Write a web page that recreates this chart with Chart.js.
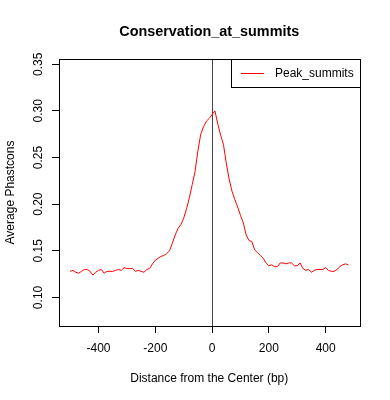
<!DOCTYPE html>
<html>
<head>
<meta charset="utf-8">
<script src="https://cdn.jsdelivr.net/npm/chart.js@4/dist/chart.umd.min.js"></script>
<style>
	html, body { margin: 0; padding: 0; background: #fff; }
	#wrap { width: 390px; height: 400px; }
</style>
</head>
<body>
<div id="wrap"><canvas id="chart" width="390" height="400"></canvas></div>
<script>
// distance from summit (bp)
const distances = [
	-500, -490, -480, -470, -460, -450, -440, -430, -420, -410,
	-400, -390, -380, -370, -360, -350, -340, -330, -320, -310,
	-300, -290, -280, -270, -260, -250, -240, -230, -220, -210,
	-200, -190, -180, -170, -160, -150, -140, -130, -120, -110,
	-100, -90, -80, -70, -60, -50, -40, -30, -20, -10,
	0, 10, 20, 30, 40, 50, 60, 70, 80, 90,
	100, 110, 120, 130, 140, 150, 160, 170, 180, 190,
	200, 210, 220, 230, 240, 250, 260, 270, 280, 290,
	300, 310, 320, 330, 340, 350, 360, 370, 380, 390,
	400, 410, 420, 430, 440, 450, 460, 470, 480
];

// average phastcons, Peak_summits
const peakSummits = [
	0.128, 0.129, 0.127, 0.126, 0.128, 0.130, 0.130, 0.128, 0.124, 0.127,
	0.129, 0.130, 0.126, 0.128, 0.128, 0.128, 0.129, 0.130, 0.129, 0.132,
	0.131, 0.131, 0.131, 0.128, 0.129, 0.128, 0.127, 0.130, 0.131, 0.136,
	0.140, 0.142, 0.144, 0.145, 0.147, 0.150, 0.158, 0.167, 0.174, 0.178,
	0.185, 0.195, 0.207, 0.221, 0.235, 0.257, 0.275, 0.283, 0.289, 0.292,
	0.296, 0.300, 0.286, 0.274, 0.264, 0.244, 0.227, 0.214, 0.205, 0.197,
	0.188, 0.180, 0.167, 0.161, 0.160, 0.151, 0.148, 0.145, 0.142, 0.137,
	0.134, 0.135, 0.133, 0.133, 0.137, 0.137, 0.136, 0.137, 0.137, 0.134,
	0.134, 0.137, 0.131, 0.129, 0.130, 0.127, 0.129, 0.130, 0.130, 0.130,
	0.132, 0.129, 0.128, 0.128, 0.130, 0.133, 0.135, 0.136, 0.135
];

const xTicks = [-400, -200, 0, 200, 400];
const yTicks = [0.10, 0.15, 0.20, 0.25, 0.30, 0.35];
const yTickLabels = ['0.10', '0.15', '0.20', '0.25', '0.30', '0.35'];

const FONT = '"Liberation Sans", Arial, Helvetica, sans-serif';

const rDecor = {
	id: 'rDecor',
	beforeDatasetsDraw(chart) {
		const {ctx, chartArea, scales} = chart;
		const x0 = Math.round(scales.x.getPixelForValue(0)) + 0.5;
		ctx.save();
		ctx.strokeStyle = '#444';
		ctx.lineWidth = 1;
		ctx.beginPath();
		ctx.moveTo(x0, chartArea.top);
		ctx.lineTo(x0, chartArea.bottom);
		ctx.stroke();
		ctx.restore();
	},
	afterDraw(chart) {
		const {ctx, chartArea, scales} = chart;
		const {left, right, top, bottom} = chartArea;
		ctx.save();

		// plot box
		ctx.strokeStyle = '#000';
		ctx.lineWidth = 1;
		ctx.strokeRect(Math.round(left) + 0.5, Math.round(top) + 0.5,
			Math.round(right - left), Math.round(bottom - top));

		// rotated y tick labels
		ctx.fillStyle = '#000';
		ctx.font = '12px ' + FONT;
		ctx.textAlign = 'center';
		ctx.textBaseline = 'middle';
		yTicks.forEach((v, i) => {
			ctx.save();
			ctx.translate(39, scales.y.getPixelForValue(v));
			ctx.rotate(-Math.PI / 2);
			ctx.fillText(yTickLabels[i], 0, 0);
			ctx.restore();
		});

		// axis titles
		ctx.fillText('Distance from the Center (bp)', (left + right) / 2, 379);
		ctx.save();
		ctx.translate(11, (top + bottom) / 2);
		ctx.rotate(-Math.PI / 2);
		ctx.fillText('Average Phastcons', 0, 0);
		ctx.restore();

		// main title
		ctx.font = 'bold 14.4px ' + FONT;
		ctx.fillText('Conservation_at_summits', (left + right) / 2, 32);

		// legend
		const lx = 231.5, ly = Math.round(top) + 0.5, lw = Math.round(right) - 231, lh = 28;
		ctx.strokeStyle = '#000';
		ctx.strokeRect(lx, ly, lw, lh);
		ctx.strokeStyle = '#ff0000';
		ctx.beginPath();
		ctx.moveTo(241, 73.5);
		ctx.lineTo(264, 73.5);
		ctx.stroke();
		ctx.font = '12px ' + FONT;
		ctx.textAlign = 'left';
		ctx.fillText('Peak_summits', 275, 73.5);

		ctx.restore();
	}
};

new Chart(document.getElementById('chart'), {
	type: 'line',
	data: {
		datasets: [{
			label: 'Peak_summits',
			data: distances.map((d, i) => ({x: d, y: peakSummits[i]})),
			borderColor: '#ff0000',
			borderWidth: 1,
			pointRadius: 0,
			tension: 0,
			fill: false,
		}]
	},
	options: {
		responsive: false,
		animation: false,
		devicePixelRatio: 1,
		layout: {
			padding: {top: 59, right: 30.5, bottom: 0, left: 0}
		},
		plugins: {
			legend: {display: false},
			title: {display: false},
			tooltip: {enabled: false},
		},
		scales: {
			x: {
				type: 'linear',
				min: -539.2,
				max: 519.2,
				afterBuildTicks: (scale) => {
					scale.ticks = xTicks.map(v => ({value: v}));
				},
				afterFit: (scale) => {
					scale.height = 74;
				},
				border: {display: false},
				grid: {
					display: true,
					drawOnChartArea: false,
					drawTicks: true,
					tickLength: 7,
					color: '#000',
				},
				ticks: {
					autoSkip: false,
					maxRotation: 0,
					padding: 8,
					color: '#000',
					font: {family: FONT, size: 12},
				},
			},
			y: {
				min: 0.0694,
				max: 0.3556,
				afterBuildTicks: (scale) => {
					scale.ticks = yTicks.map(v => ({value: v}));
				},
				afterFit: (scale) => {
					scale.width = 59;
				},
				border: {display: false},
				grid: {
					display: true,
					drawOnChartArea: false,
					drawTicks: true,
					tickLength: 7,
					color: '#000',
				},
				ticks: {display: false},
			}
		}
	},
	plugins: [rDecor]
});
</script>
</body>
</html>
